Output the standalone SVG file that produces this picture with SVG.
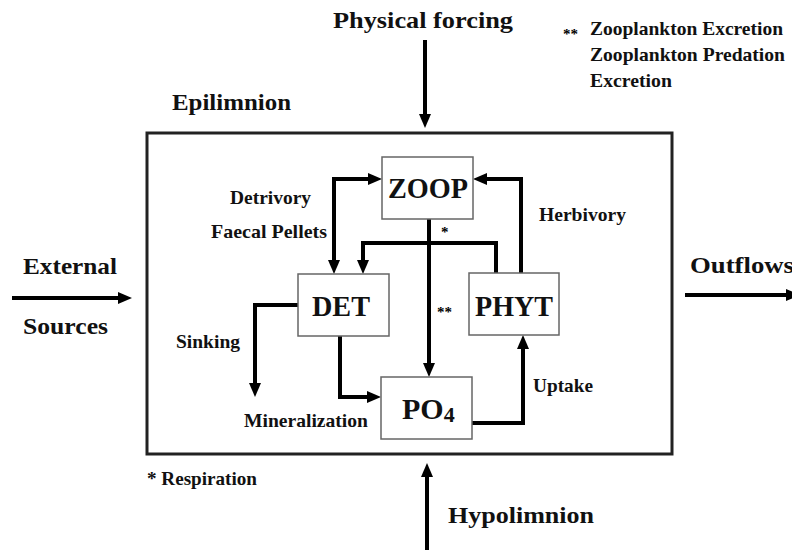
<svg xmlns="http://www.w3.org/2000/svg" width="792" height="550" viewBox="0 0 792 550">
<defs>
<marker id="ah" viewBox="0 0 14 14" markerWidth="14" markerHeight="14" refX="8" refY="7" orient="auto-start-reverse" markerUnits="userSpaceOnUse">
<path d="M0,1 L14,7 L0,13 z" fill="#000"/>
</marker>
<style>
text{font-family:'Liberation Serif','DejaVu Serif',serif}
.t{font-weight:bold;fill:#111}
.big{font-size:24px}
.sm{font-size:19px}
.node{font-size:30px}
.star{font-size:15px;font-weight:bold;fill:#000}
.box{fill:#fff;stroke:#666;stroke-width:1.5}
.c{fill:none;stroke:#000;stroke-width:4;marker-end:url(#ah)}
</style>
</defs>
<rect width="792" height="550" fill="#fff"/>
<g id="epilimnion">
<rect x="147" y="133" width="525" height="321" fill="none" stroke="#222" stroke-width="3"/>
<text class="t big" x="172" y="110" textLength="119" lengthAdjust="spacingAndGlyphs">Epilimnion</text>
</g>
<g id="connectors">
<path class="c" d="M334,268 V179 H376" marker-start="url(#ah)"/>
<path class="c" d="M496,273 V243 H363 V268"/>
<path class="c" d="M429,219 V371"/>
<path class="c" d="M521,273 V179 H479"/>
<path class="c" d="M298,305 H255 V391"/>
<path class="c" d="M340,336 V397 H375"/>
<path class="c" d="M472,423 H523 V341"/>
<path class="c" d="M425,40 V122"/>
<path class="c" d="M427,550 V469"/>
<path class="c" d="M12,298 H126"/>
<path class="c" d="M685,295 H794"/>
</g>
<g id="zoop">
<rect class="box" x="382" y="157" width="91" height="62"/>
<text class="t node" x="388" y="198" textLength="80" lengthAdjust="spacingAndGlyphs">ZOOP</text>
</g>
<g id="det">
<rect class="box" x="298" y="274" width="91" height="62"/>
<text class="t node" x="312" y="316" textLength="58" lengthAdjust="spacingAndGlyphs">DET</text>
</g>
<g id="phyt">
<rect class="box" x="469" y="273" width="90" height="62"/>
<text class="t node" x="475" y="316" textLength="78" lengthAdjust="spacingAndGlyphs">PHYT</text>
</g>
<g id="po4">
<rect class="box" x="381" y="377" width="91" height="62"/>
<text class="t node" x="402" y="419">PO<tspan font-size="22" dy="3">4</tspan></text>
</g>
<g id="labels">
<text class="t big" x="333" y="28" textLength="180" lengthAdjust="spacingAndGlyphs">Physical forcing</text>
<text class="t big" x="23" y="274" textLength="94" lengthAdjust="spacingAndGlyphs">External</text>
<text class="t big" x="23" y="334" textLength="85" lengthAdjust="spacingAndGlyphs">Sources</text>
<text class="t big" x="690" y="273" textLength="104" lengthAdjust="spacingAndGlyphs">Outflows</text>
<text class="t big" x="448" y="523" textLength="146" lengthAdjust="spacingAndGlyphs">Hypolimnion</text>
<text class="t sm" x="230" y="204" textLength="81" lengthAdjust="spacingAndGlyphs">Detrivory</text>
<text class="t sm" x="211" y="238" textLength="116" lengthAdjust="spacingAndGlyphs">Faecal Pellets</text>
<text class="t sm" x="539" y="221" textLength="87" lengthAdjust="spacingAndGlyphs">Herbivory</text>
<text class="t sm" x="176" y="348" textLength="64" lengthAdjust="spacingAndGlyphs">Sinking</text>
<text class="t sm" x="244" y="427" textLength="124" lengthAdjust="spacingAndGlyphs">Mineralization</text>
<text class="t sm" x="533" y="392" textLength="60" lengthAdjust="spacingAndGlyphs">Uptake</text>
<text class="t sm" x="147" y="485" textLength="110" lengthAdjust="spacingAndGlyphs">* Respiration</text>
<text class="star" x="563" y="39">**</text>
<text class="t sm" x="590" y="35" textLength="193" lengthAdjust="spacingAndGlyphs">Zooplankton Excretion</text>
<text class="t sm" x="590" y="61" textLength="195" lengthAdjust="spacingAndGlyphs">Zooplankton Predation</text>
<text class="t sm" x="590" y="87" textLength="82" lengthAdjust="spacingAndGlyphs">Excretion</text>
<text class="star" x="441" y="237" font-size="13">*</text>
<text class="star" x="437" y="317">**</text>
</g>
</svg>
